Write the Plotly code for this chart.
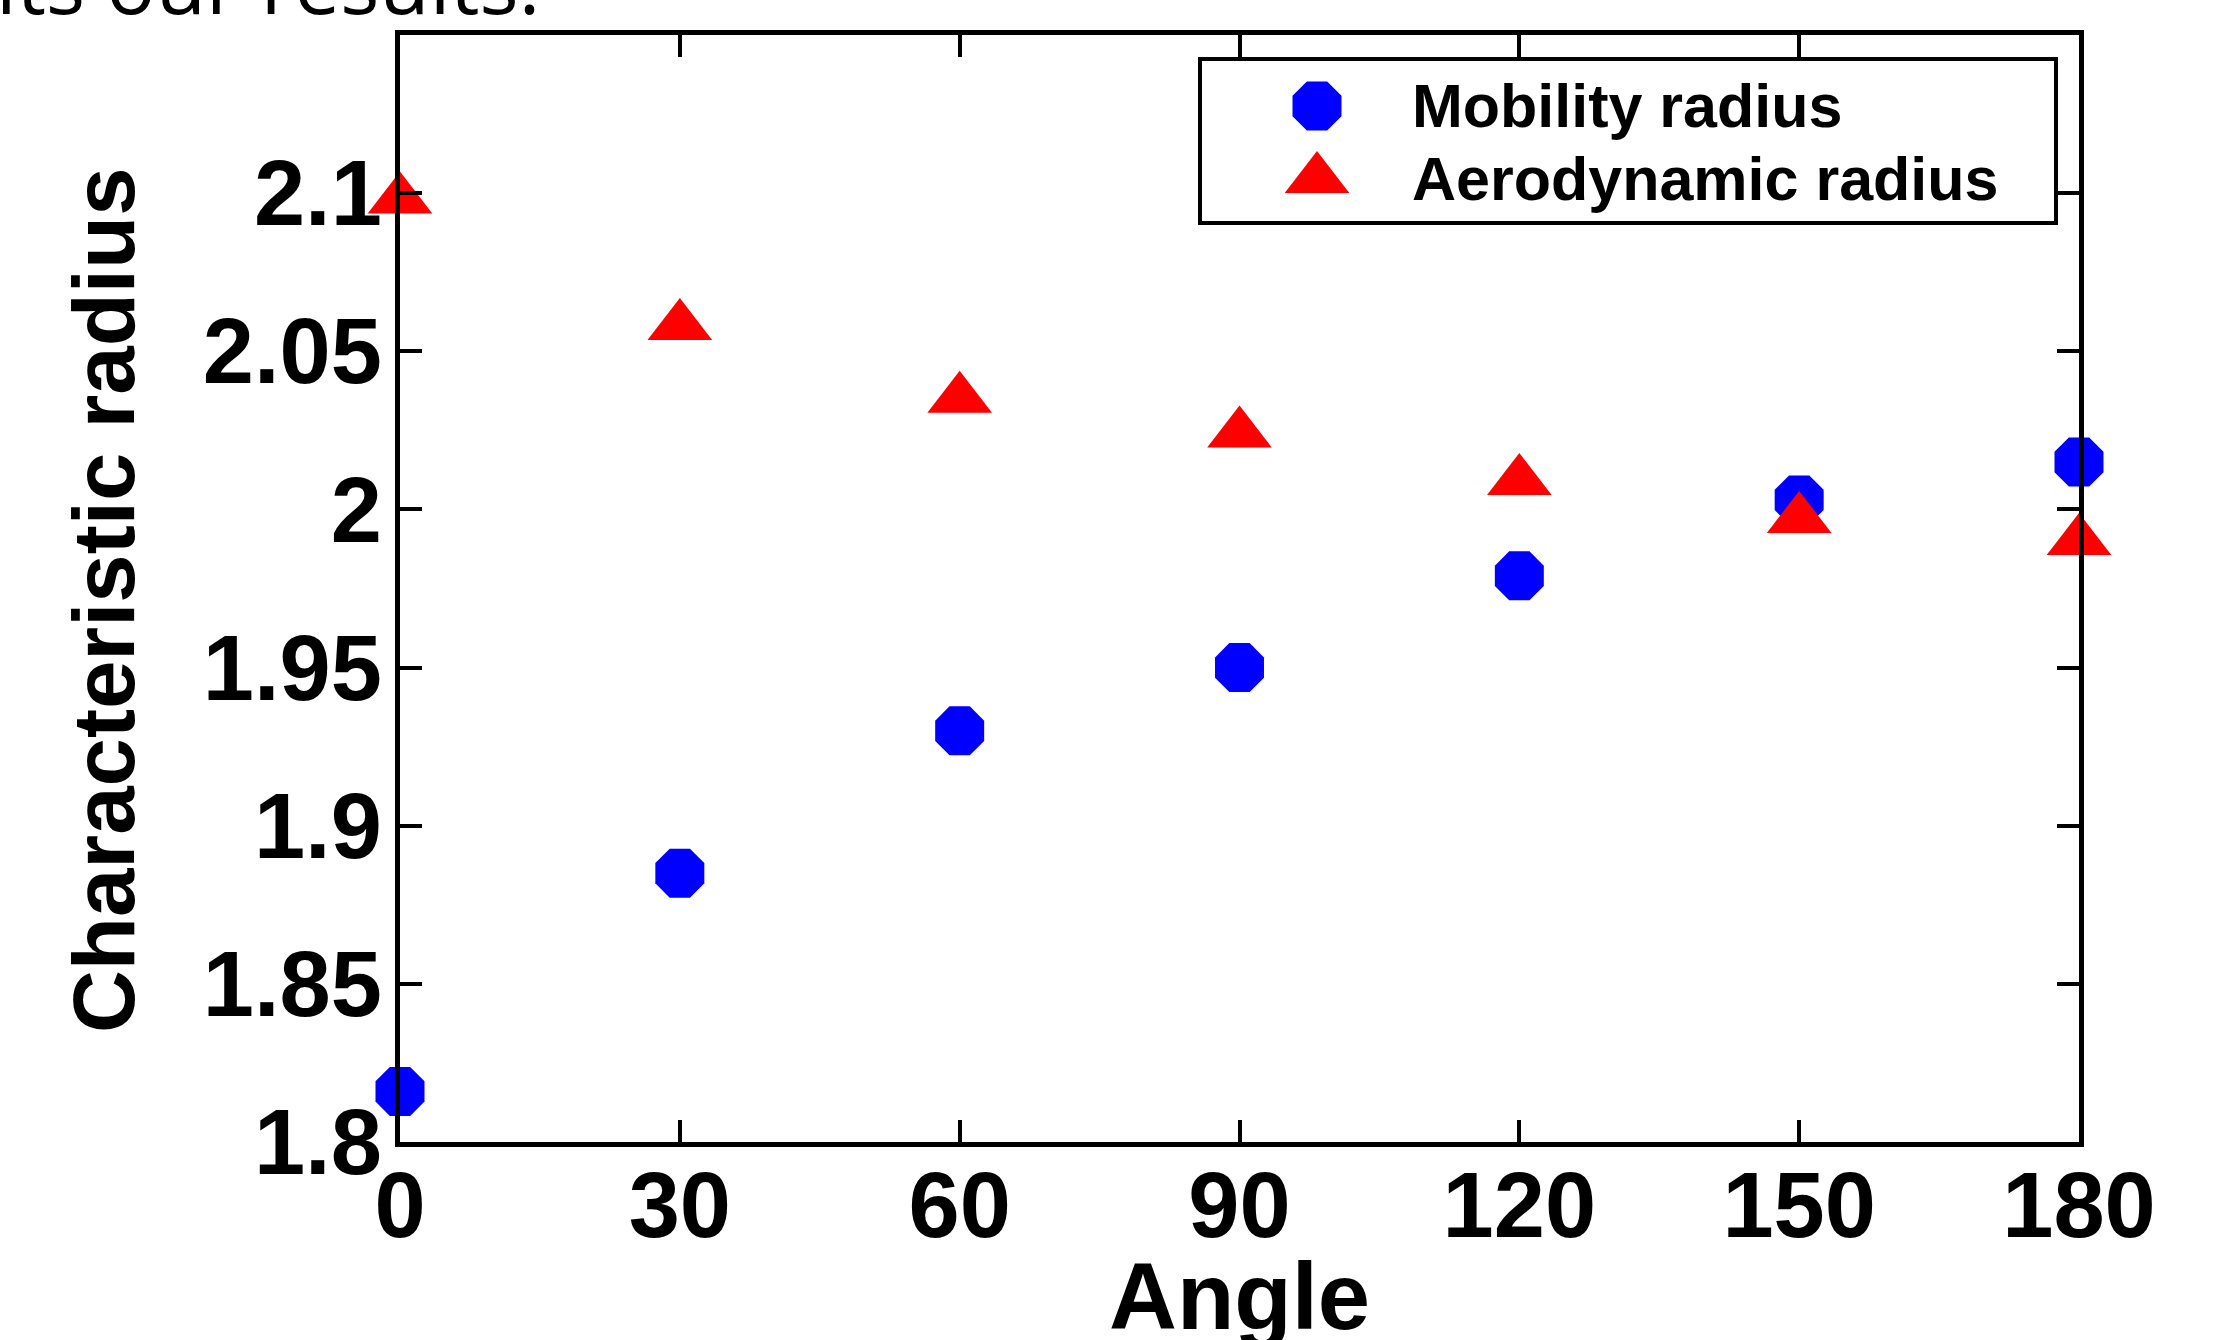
import plotly.graph_objects as go

# ---- data ----
angles = [0, 30, 60, 90, 120, 150, 180]
mobility_radius = [1.816, 1.885, 1.930, 1.950, 1.979, 2.003, 2.015]
aerodynamic_radius = [2.098, 2.058, 2.035, 2.024, 2.009, 1.997, 1.990]

x_ticks = [0, 30, 60, 90, 120, 150, 180]
y_ticks = [1.8, 1.85, 1.9, 1.95, 2.0, 2.05, 2.1]
y_tick_labels = ["1.8", "1.85", "1.9", "1.95", "2", "2.05", "2.1"]
series_names = ["Mobility radius", "Aerodynamic radius"]
x_title = "Angle"
y_title = "Characteristic radius"
top_text = "its our results."

FONT = "Liberation Sans, Arial, Helvetica, sans-serif"
BLUE = "#0000FF"
RED = "#FF0000"

W, H = 2214, 1340
L, R, T, B = 400, 2079, 35, 1142   # plot-area pixel box


def px(xp):
    return (xp - L) / (R - L)


def py(yp):
    return (B - yp) / (B - T)


fig = go.Figure()

fig.add_trace(go.Scatter(
    x=angles, y=mobility_radius, mode="markers", name=series_names[0],
    marker=dict(symbol="octagon", size=53, color=BLUE, line=dict(width=0)),
    cliponaxis=False, showlegend=False,
))
fig.add_trace(go.Scatter(
    x=angles, y=aerodynamic_radius, mode="markers", name=series_names[1],
    marker=dict(symbol="triangle-up", size=56, color=RED, line=dict(width=0)),
    cliponaxis=False, showlegend=False,
))

# legend symbols drawn on an invisible overlay axis so they keep full size
fig.add_trace(go.Scatter(
    x=[px(1317)], y=[py(106)], xaxis="x2", yaxis="y2", mode="markers",
    marker=dict(symbol="octagon", size=53, color=BLUE, line=dict(width=0)),
    showlegend=False, hoverinfo="skip", cliponaxis=False,
))
fig.add_trace(go.Scatter(
    x=[px(1317)], y=[py(179)], xaxis="x2", yaxis="y2", mode="markers",
    marker=dict(symbol="triangle-up", size=56, color=RED, line=dict(width=0)),
    showlegend=False, hoverinfo="skip", cliponaxis=False,
))

axis_common = dict(
    showline=True, linecolor="black", linewidth=4.5, mirror="ticks",
    ticks="inside", ticklen=22, tickwidth=4, tickcolor="black",
    showgrid=False, zeroline=False,
    tickfont=dict(family=FONT, size=92, color="black", weight="bold"),
)

fig.update_layout(
    width=W, height=H,
    margin=dict(l=L, r=W - R, t=T, b=H - B, pad=0),
    paper_bgcolor="white", plot_bgcolor="white",
    showlegend=False,
    xaxis=dict(range=[0, 180], tickvals=x_ticks, ticklabelstandoff=-20, **axis_common),
    yaxis=dict(range=[1.8, 2.15], tickvals=y_ticks, ticktext=y_tick_labels,
               ticklabelstandoff=-5, **axis_common),
    xaxis2=dict(overlaying="x", range=[0, 1], visible=False),
    yaxis2=dict(overlaying="y", range=[0, 1], visible=False),
    shapes=[dict(
        type="rect", xref="paper", yref="paper",
        x0=px(1200), x1=px(2056), y0=py(223), y1=py(59),
        line=dict(color="black", width=4), fillcolor="white", layer="below",
    )],
    annotations=[
        dict(text=series_names[0], xref="paper", yref="paper", x=px(1410), y=py(106),
             xanchor="left", yanchor="middle", showarrow=False,
             font=dict(family=FONT, size=61, color="black", weight="bold")),
        dict(text=series_names[1], xref="paper", yref="paper", x=px(1410), y=py(179),
             xanchor="left", yanchor="middle", showarrow=False,
             font=dict(family=FONT, size=61, color="black", weight="bold")),
        dict(text=x_title, xref="paper", yref="paper", x=0.5, y=py(1296),
             xanchor="center", yanchor="middle", showarrow=False,
             font=dict(family=FONT, size=94, color="black", weight="bold")),
        dict(text=y_title, xref="paper", yref="paper", x=px(104), y=py(600),
             xanchor="center", yanchor="middle", showarrow=False, textangle=-90,
             font=dict(family=FONT, size=87, color="black", weight="bold")),
        dict(text=top_text, xref="paper", yref="paper", x=px(-6), y=py(40),
             xanchor="left", yanchor="bottom", showarrow=False,
             font=dict(family="Open Sans, Noto Sans, sans-serif", size=82, color="black")),
    ],
)

fig.write_html(
    "out.html",
    config={"displayModeBar": False},
    post_script="document.body.style.margin='0';document.body.style.overflow='hidden';",
)
